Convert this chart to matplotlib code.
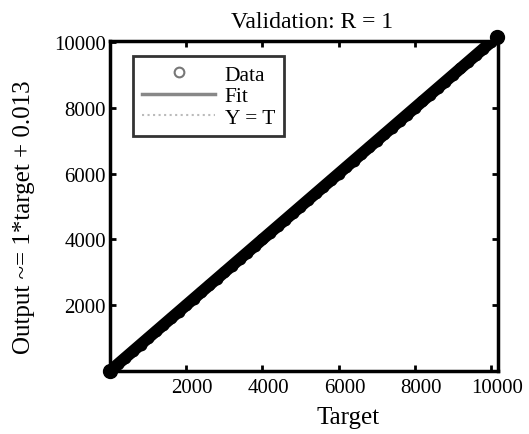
import numpy as np
import matplotlib
matplotlib.use("Agg")
import matplotlib.pyplot as plt
import matplotlib.transforms as mtransforms

# ── Data ───────────────────────────────────────────────────
targets = [0, 200, 400, 600, 800, 1000, 1200, 1400, 1600, 1800,
           2000, 2200, 2400, 2600, 2800, 3000, 3200, 3400, 3600, 3800,
           4000, 4200, 4400, 4600, 4800, 5000, 5200, 5400, 5600, 5800,
           6000, 6200, 6400, 6600, 6800, 7000, 7200, 7400, 7600, 7800,
           8000, 8200, 8400, 8600, 8800, 9000, 9200, 9400, 9600, 9800,
           10000, 10150]
outputs = [t + 0.013 for t in targets]
fit_slope = 1.0
fit_offset = 0.013
r_value = 1
xticks = [2000, 4000, 6000, 8000, 10000]
yticks = [2000, 4000, 6000, 8000, 10000]

plt.rcParams["font.family"] = ["Liberation Serif", "DejaVu Serif"]

fig = plt.figure(figsize=(5.29, 4.35), dpi=100)
ax = fig.add_axes([0.208, 0.145, 0.733, 0.758])

t = np.array(targets)
ax.plot(t, t, color="#bbbbbb", linestyle=":", linewidth=1.5, label="Y = T", zorder=1)
ax.plot(t, fit_slope * t + fit_offset, color="#888888", linewidth=2.5, label="Fit", zorder=2)
ax.plot(targets, outputs, linestyle="none", marker="o", markersize=7,
        markerfacecolor="black", markeredgecolor="black", markeredgewidth=1.5,
        zorder=3)
ax.plot(targets, outputs, color="black", linewidth=8.5, solid_capstyle="round", zorder=3)
# end points sit on the frame and show as round blobs
ax.plot([targets[0], targets[-1]], [outputs[0], outputs[-1]], linestyle="none",
        marker="o", markersize=10, color="black", zorder=4, clip_on=False)
# legend proxy for the data markers
ax.plot([], [], linestyle="none", marker="o", markersize=7, markerfacecolor="none",
        markeredgecolor="#777777", markeredgewidth=1.5, label="Data")

ax.set_xlim(0, 10180)
ax.set_ylim(0, 10030)
ax.set_xticks(xticks)
ax.set_yticks(yticks)
ax.tick_params(direction="in", length=4, width=2, labelsize=15,
               top=True, right=True)
ax.tick_params(axis="x", pad=5)
ax.tick_params(axis="y", pad=3)
for s in ax.spines.values():
    s.set_linewidth(2.5)

# x tick labels sit a little right of their ticks
shift = mtransforms.ScaledTranslation(0.06, 0, fig.dpi_scale_trans)
for lab in ax.get_xticklabels():
    lab.set_transform(lab.get_transform() + shift)

ax.set_title(f"Validation: R = {r_value}", fontsize=17, pad=10, x=0.52)
ax.set_xlabel("Target", fontsize=18)
ax.xaxis.set_label_coords(0.615, -0.107)
ax.set_ylabel("Output ~= 1*target + 0.013", fontsize=18)
ax.yaxis.set_label_coords(-0.194, 0.47)

h, l = ax.get_legend_handles_labels()
order = [l.index("Data"), l.index("Fit"), l.index("Y = T")]
leg = ax.legend([h[i] for i in order], [l[i] for i in order],
                loc="upper left", bbox_to_anchor=(0.06, 0.955), fontsize=15.5,
                frameon=True, fancybox=False, edgecolor="black",
                handlelength=3.4, handletextpad=0.45, labelspacing=0.07,
                borderpad=0.4, borderaxespad=0)
leg.get_frame().set_linewidth(2)

plt.savefig("out.png", dpi=100)
plt.close()
